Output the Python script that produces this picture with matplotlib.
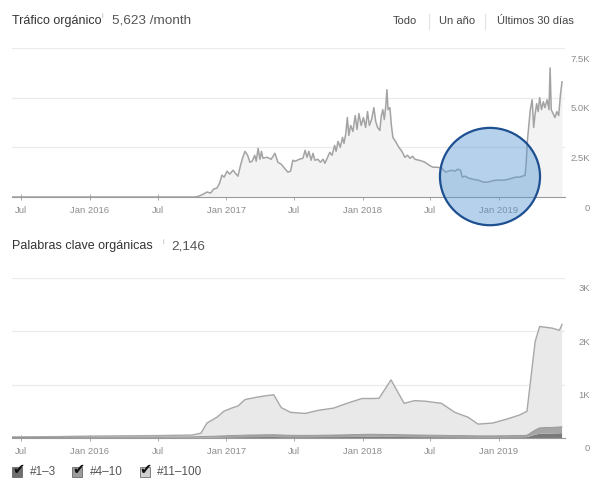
import matplotlib
matplotlib.use("Agg")
import matplotlib.pyplot as plt
import matplotlib.transforms as mtransforms
import matplotlib.dates as mdates
from matplotlib.patches import Ellipse, Rectangle
from matplotlib.lines import Line2D
import pandas as pd

plt.rcParams['font.family'] = ['Liberation Sans', 'DejaVu Sans']

# --- Tráfico orgánico (K visitas / mes) ---
traffic_dates = [
    "2015-06-07", "2016-10-10", "2016-10-20", "2016-11-01", "2016-11-10", "2016-11-20",
    "2016-11-28", "2016-12-07", "2016-12-14", "2016-12-20", "2016-12-26", "2017-01-03",
    "2017-01-10", "2017-01-19", "2017-01-25", "2017-02-01", "2017-02-08", "2017-02-14",
    "2017-02-20", "2017-02-27", "2017-03-05", "2017-03-11", "2017-03-18", "2017-03-22",
    "2017-03-27", "2017-04-01", "2017-04-05", "2017-04-09", "2017-04-20", "2017-05-01",
    "2017-05-11", "2017-05-19", "2017-05-28", "2017-06-08", "2017-06-15", "2017-06-22",
    "2017-06-28", "2017-07-05", "2017-07-15", "2017-07-25", "2017-07-31", "2017-08-05",
    "2017-08-10", "2017-08-16", "2017-08-21", "2017-08-26", "2017-09-03", "2017-09-10",
    "2017-09-17", "2017-09-22", "2017-09-29", "2017-10-05", "2017-10-11", "2017-10-18",
    "2017-10-22", "2017-10-27", "2017-11-02", "2017-11-08", "2017-11-12", "2017-11-17",
    "2017-11-21", "2017-11-25", "2017-11-30", "2017-12-06", "2017-12-12", "2017-12-17",
    "2017-12-22", "2017-12-28", "2018-01-03", "2018-01-09", "2018-01-14", "2018-01-19",
    "2018-01-25", "2018-01-31", "2018-02-05", "2018-02-10", "2018-02-16", "2018-02-20",
    "2018-02-24", "2018-02-28", "2018-03-04", "2018-03-07", "2018-03-10", "2018-03-15",
    "2018-03-19", "2018-03-23", "2018-03-30", "2018-04-08", "2018-04-16", "2018-04-24",
    "2018-05-01", "2018-05-08", "2018-05-15", "2018-05-21", "2018-06-01", "2018-06-10",
    "2018-06-17", "2018-06-28", "2018-07-08", "2018-07-20", "2018-08-01", "2018-08-06",
    "2018-08-12", "2018-08-18", "2018-08-28", "2018-09-05", "2018-09-13", "2018-09-20",
    "2018-09-25", "2018-10-02", "2018-10-12", "2018-10-22", "2018-11-06", "2018-11-20",
    "2018-12-03", "2018-12-15", "2018-12-29", "2019-01-15", "2019-01-28", "2019-02-05",
    "2019-02-15", "2019-02-25", "2019-03-05", "2019-03-12", "2019-03-15", "2019-03-18",
    "2019-03-22", "2019-03-26", "2019-03-31", "2019-04-04", "2019-04-08", "2019-04-12",
    "2019-04-16", "2019-04-20", "2019-04-25", "2019-04-30", "2019-05-04", "2019-05-10",
    "2019-05-15", "2019-05-18", "2019-05-21", "2019-05-26", "2019-05-31", "2019-06-05",
    "2019-06-10", "2019-06-15", "2019-06-19",
]
traffic_k = [
    0.0, 0.0, 0.05, 0.15, 0.25, 0.2,
    0.4, 0.45, 0.7, 1.1, 1.0, 1.3,
    1.15, 1.35, 1.2, 1.05, 1.6, 2.0,
    2.3, 2.1, 1.75, 1.8, 2.1, 1.8,
    2.45, 1.9, 2.3, 1.95, 2.0, 1.9,
    2.2, 1.75, 1.65, 1.4, 1.25, 1.3,
    1.85, 1.8, 1.9, 1.95, 2.35, 2.0,
    2.3, 1.85, 2.2, 1.85, 1.9, 1.75,
    1.9, 1.7, 2.0, 2.25, 2.1, 2.6,
    2.3, 2.8, 2.5, 3.0, 2.7, 3.2,
    4.0, 3.1, 3.6, 3.3, 4.1, 3.4,
    4.2, 3.6, 4.0, 3.5, 4.3, 3.6,
    3.9, 4.5, 3.8, 3.5, 3.35, 4.1,
    4.4, 3.9, 4.6, 5.4, 4.4, 4.5,
    3.6, 3.0, 2.8, 2.5, 2.3, 2.0,
    2.1, 1.95, 2.05, 1.9, 1.85, 1.8,
    1.75, 1.6, 1.5, 1.5, 1.45, 1.35,
    1.25, 1.3, 1.35, 1.3, 1.4, 1.35,
    1.0, 1.05, 0.95, 0.9, 0.85, 0.75,
    0.75, 0.82, 0.85, 0.85, 0.9, 0.95,
    1.0, 1.0, 1.05, 1.1, 1.7, 2.8,
    3.6, 4.4, 4.9, 3.5, 4.2, 4.7,
    4.3, 5.0, 4.4, 4.8, 4.5, 4.9,
    4.4, 6.5, 4.4, 4.2, 4.0, 4.3,
    4.1, 5.2, 5.8,
]

# --- Palabras clave orgánicas por posición ---
kw_dates = [
    "2015-06-07", "2015-10-01", "2016-01-01", "2016-04-01", "2016-07-01", "2016-10-01",
    "2016-10-25", "2016-11-10", "2016-12-07", "2016-12-25", "2017-01-15", "2017-02-01",
    "2017-02-20", "2017-03-20", "2017-04-15", "2017-05-08", "2017-05-28", "2017-06-22",
    "2017-07-31", "2017-09-05", "2017-10-15", "2017-11-20", "2017-12-30", "2018-01-30",
    "2018-02-14", "2018-03-18", "2018-04-22", "2018-05-20", "2018-06-17", "2018-07-31",
    "2018-09-05", "2018-10-10", "2018-11-06", "2018-12-15", "2019-01-20", "2019-02-25",
    "2019-03-17", "2019-04-08", "2019-04-20", "2019-05-23", "2019-06-12", "2019-06-19",
]
kw_top3 = [
    3, 3, 4, 5, 5, 6,
    8, 8, 10, 12, 14, 15,
    16, 17, 18, 18, 16, 15,
    15, 16, 17, 18, 20, 21,
    20, 20, 18, 17, 16, 15,
    14, 13, 12, 12, 13, 14,
    16, 60, 80, 85, 88, 90,
]
kw_top10 = [
    7, 8, 10, 12, 14, 16,
    20, 22, 25, 28, 32, 35,
    38, 40, 42, 44, 40, 36,
    34, 36, 38, 42, 48, 50,
    48, 46, 42, 40, 38, 36,
    32, 30, 28, 28, 30, 32,
    36, 90, 110, 115, 118, 120,
]
kw_top100 = [
    10, 14, 21, 23, 26, 33,
    62, 250, 355, 460, 514, 550,
    666, 703, 730, 748, 514, 429,
    411, 468, 505, 590, 672, 669,
    677, 1024, 590, 643, 636, 599,
    434, 347, 220, 240, 307, 384,
    448, 1660, 1900, 1860, 1814, 1920,
]

tick_dates = ["2015-07-01", "2016-01-01", "2016-07-01", "2017-01-01",
              "2017-07-01", "2018-01-01", "2018-07-01", "2019-01-01"]
tick_labels = ["Jul", "Jan 2016", "Jul", "Jan 2017", "Jul", "Jan 2018", "Jul", "Jan 2019"]

traffic_ticks = [0, 2.5, 5.0, 7.5]
traffic_tick_labels = ["0", "2.5K", "5.0K", "7.5K"]
kw_ticks = [0, 1000, 2000, 3000]
kw_tick_labels = ["0", "1K", "2K", "3K"]

x_range = ("2015-06-07", "2019-06-27")
highlight = ("2018-12-08", 1.03, 268, 4.9)  # centro, ancho (días), alto (K)

GRID = "#ebebeb"
TICK = "#8c8c8c"


def style_axis(ax, ymax, ticks, labels):
    ax.set_xlim(pd.to_datetime(x_range[0]), pd.to_datetime(x_range[1]))
    ax.set_ylim(0, ymax)
    for s in ["top", "left", "right"]:
        ax.spines[s].set_visible(False)
    ax.spines["bottom"].set_color("#9a9a9a")
    ax.spines["bottom"].set_linewidth(0.8)
    ax.set_axisbelow(True)
    ax.grid(axis="y", color=GRID, linewidth=0.9)
    ax.set_xticks(pd.to_datetime(tick_dates))
    ax.set_xticklabels(tick_labels)
    ax.tick_params(axis="x", direction="inout", length=5, width=0.7, color="#aaaaaa",
                   labelsize=6.8, labelcolor=TICK, pad=4)
    ax.set_yticks(ticks)
    ax.set_yticklabels(labels)
    ax.yaxis.tick_right()
    ax.tick_params(axis="y", length=0, labelsize=6.8, labelcolor=TICK, pad=18)
    off = mtransforms.ScaledTranslation(0, -0.10, ax.figure.dpi_scale_trans)
    for lab in ax.get_yticklabels():
        lab.set_horizontalalignment("right")
        lab.set_transform(lab.get_transform() + off)


fig = plt.figure(figsize=(6.1, 4.94), dpi=100)
fig.patch.set_facecolor("white")

# ---------- Tráfico ----------
ax1 = fig.add_axes([0.0197, 0.6012, 0.9066, 0.3016])
td = pd.to_datetime(traffic_dates)
ax1.fill_between(td, traffic_k, color="#f3f3f3", linewidth=0)
ax1.plot(td, traffic_k, color="#a3a3a3", linewidth=1.1)
style_axis(ax1, 7.5, traffic_ticks, traffic_tick_labels)

# círculo de resalte (en unidades de fecha: días)
hx, hy, hw, hh = highlight
hc = (mdates.date2num(pd.to_datetime(hx)), hy)
ax1.add_patch(Ellipse(hc, width=hw, height=hh, facecolor="#5b9bd5", alpha=0.45,
                      edgecolor="none", zorder=5, clip_on=False))
ax1.add_patch(Ellipse(hc, width=hw, height=hh, facecolor="none", edgecolor="#1d4f91",
                      linewidth=1.6, zorder=6, clip_on=False))

# ---------- Palabras clave ----------
ax2 = fig.add_axes([0.0197, 0.1134, 0.9066, 0.3239])
kd = pd.to_datetime(kw_dates)
ax2.stackplot(kd, kw_top3, kw_top10, kw_top100,
              colors=["#7a7a7a", "#a5a5a5", "#e9e9e9"], linewidth=0)
top_line = [a + b + c for a, b, c in zip(kw_top3, kw_top10, kw_top100)]
mid_line = [a + b for a, b in zip(kw_top3, kw_top10)]
ax2.plot(kd, top_line, color="#a8a8a8", linewidth=1.0)
ax2.plot(kd, mid_line, color="#8f8f8f", linewidth=0.6)
style_axis(ax2, 3000, kw_ticks, kw_tick_labels)

# ---------- Textos ----------
fig.text(0.0197, 0.958, "Tráfico orgánico", fontsize=9, color="#333333", va="center")
fig.text(0.166, 0.966, "i", fontsize=5, color="#aaaaaa", va="center")
fig.text(0.183, 0.958, "5,623 /month", fontsize=9.7, color="#555555", va="center")

fig.text(0.644, 0.958, "Todo", fontsize=8, color="#444444", va="center")
fig.text(0.720, 0.958, "Un año", fontsize=8, color="#444444", va="center")
fig.text(0.815, 0.958, "Últimos 30 días", fontsize=8, color="#444444", va="center")
for xs in (0.703, 0.795):
    fig.add_artist(Line2D([xs, xs], [0.942, 0.972], color="#e2e2e2", linewidth=0.8))

fig.text(0.0197, 0.502, "Palabras clave orgánicas", fontsize=9, color="#333333", va="center")
fig.text(0.267, 0.510, "i", fontsize=5, color="#aaaaaa", va="center")
fig.text(0.281, 0.502, "2,146", fontsize=9.7, color="#555555", va="center")

# ---------- Leyenda (casillas) ----------
legend_items = [("#1–3", "#6e6e6e", 0.0197), ("#4–10", "#9c9c9c", 0.118), ("#11–100", "#cfcfcf", 0.229)]
for name, col, x0 in legend_items:
    fig.add_artist(Rectangle((x0, 0.035), 0.0165, 0.0205, transform=fig.transFigure,
                             facecolor=col, edgecolor="#555555", linewidth=0.5))
    fig.text(x0 + 0.010, 0.050, "✔", fontsize=10.5, color="#111111", ha="center", va="center",
             family=["DejaVu Sans"])
    fig.text(x0 + 0.029, 0.045, name, fontsize=8.5, color="#555555", va="center")

fig.savefig("out.png", dpi=100)
